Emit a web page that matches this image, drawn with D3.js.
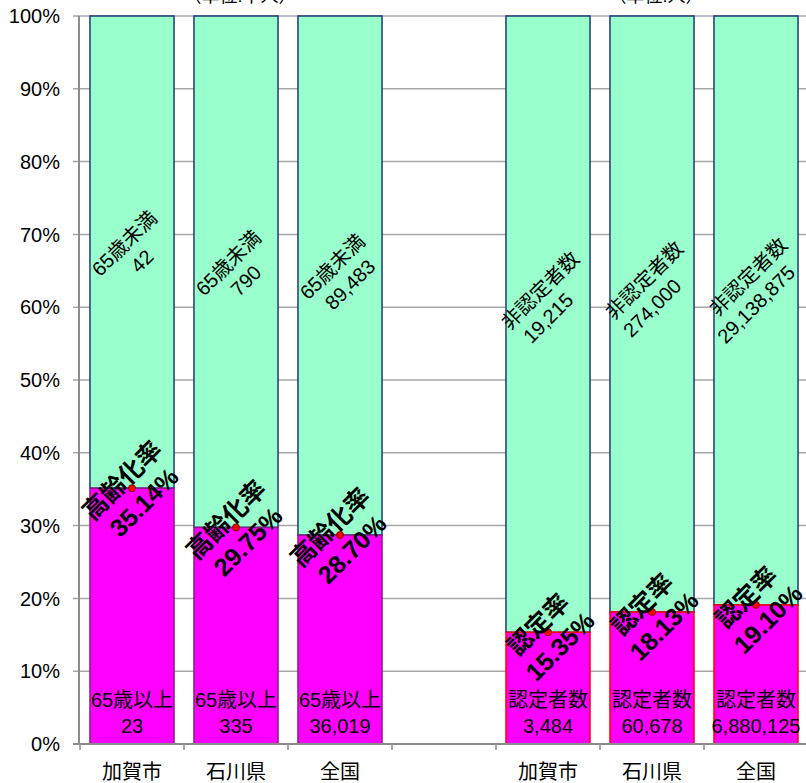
<!DOCTYPE html>
<html>
<head>
<meta charset="utf-8">
<script src="https://cdn.jsdelivr.net/npm/d3@7"></script>
<style>
  body { margin: 0; background: #fff; }
  text { font-family: "Liberation Sans", Arial, "Noto Sans CJK JP", sans-serif; }
</style>
</head>
<body>
<script>
// Data
const categories = ["加賀市", "石川県", "全国", "", "加賀市", "石川県", "全国"];
const lowerValues = [23, 335, 36019, null, 3484, 60678, 6880125];
const upperValues = [42, 790, 89483, null, 19215, 274000, 29138875];
const rates = [35.14, 29.75, 28.70, null, 15.35, 18.13, 19.10];
const lowerNames = ["65歳以上", "65歳以上", "65歳以上", "", "認定者数", "認定者数", "認定者数"];
const upperNames = ["65歳未満", "65歳未満", "65歳未満", "", "非認定者数", "非認定者数", "非認定者数"];
const rateNames = ["高齢化率", "高齢化率", "高齢化率", "", "認定率", "認定率", "認定率"];
const units = [{ at: 1, text: "（単位:千人）" }, { at: 5, text: "（単位:人）" }];
const yTicks = [0, 0.1, 0.2, 0.3, 0.4, 0.5, 0.6, 0.7, 0.8, 0.9, 1];

const width = 806;
const height = 783;
const marginTop = 16;
const marginBottom = 39;
const marginLeft = 80;

const idx = d3.range(categories.length);
const x = d3.scaleBand().domain(idx).range([marginLeft, 808]).paddingInner(0.192).paddingOuter(0.096);
const y = d3.scaleLinear([0, 1], [height - marginBottom, marginTop]);

const svg = d3.select("body").append("svg")
  .attr("width", width)
  .attr("height", height)
  .attr("viewBox", [0, 0, width, height]);

// grid lines + y tick labels
svg.append("g")
  .selectAll("line")
  .data(yTicks.slice(1))
  .join("line")
  .attr("x1", marginLeft - 7)
  .attr("x2", width)
  .attr("y1", (d) => y(d))
  .attr("y2", (d) => y(d))
  .attr("stroke", "#a6a6a6")
  .attr("stroke-width", 1.5);

svg.append("g")
  .selectAll("text")
  .data(yTicks)
  .join("text")
  .attr("x", 60)
  .attr("y", (d) => y(d))
  .attr("dy", "0.36em")
  .attr("text-anchor", "end")
  .attr("font-size", 20)
  .attr("fill", "#000")
  .text(d3.format(".0%"));

// units (cut at the top edge, as in the original)
svg.append("g")
  .selectAll("text")
  .data(units)
  .join("text")
  .attr("x", (d) => x(d.at) + x.bandwidth() / 2 + 4)
  .attr("y", 2)
  .attr("text-anchor", "middle")
  .attr("font-size", 18)
  .text((d) => d.text);

const rows = idx.filter((i) => rates[i] != null);

// upper bars
svg.append("g")
  .selectAll("rect")
  .data(rows)
  .join("rect")
  .attr("x", (i) => x(i))
  .attr("width", x.bandwidth())
  .attr("y", y(1))
  .attr("height", (i) => y(rates[i] / 100) - y(1))
  .attr("fill", "#99ffcc")
  .attr("stroke", "#1f3a78")
  .attr("stroke-width", 1.5);

// lower bars
svg.append("g")
  .selectAll("rect")
  .data(rows)
  .join("rect")
  .attr("x", (i) => x(i))
  .attr("width", x.bandwidth())
  .attr("y", (i) => y(rates[i] / 100))
  .attr("height", (i) => y(0) - y(rates[i] / 100))
  .attr("fill", "#ff00ff")
  .attr("stroke", (i) => (i < 3 ? "#8a1a8a" : "#ff0000"))
  .attr("stroke-width", 1.5);

// axes
svg.append("line")
  .attr("x1", marginLeft - 1).attr("x2", marginLeft - 1)
  .attr("y1", y(1)).attr("y2", y(0))
  .attr("stroke", "#8c8c8c").attr("stroke-width", 2);

svg.append("line")
  .attr("x1", marginLeft - 7).attr("x2", width)
  .attr("y1", y(0)).attr("y2", y(0))
  .attr("stroke", "#8c8c8c").attr("stroke-width", 2);

svg.append("g")
  .selectAll("line")
  .data(idx)
  .join("line")
  .attr("x1", (i) => x(i) - x.step() * 0.096)
  .attr("x2", (i) => x(i) - x.step() * 0.096)
  .attr("y1", y(0))
  .attr("y2", y(0) + 6)
  .attr("stroke", "#8c8c8c")
  .attr("stroke-width", 1.5);

svg.append("g")
  .selectAll("text")
  .data(idx)
  .join("text")
  .attr("x", (i) => x(i) + x.bandwidth() / 2)
  .attr("y", 772)
  .attr("dominant-baseline", "central")
  .attr("text-anchor", "middle")
  .attr("font-size", 20)
  .text((i) => categories[i]);

// red dots at top of lower bars
svg.append("g")
  .selectAll("circle")
  .data(rows)
  .join("circle")
  .attr("cx", (i) => x(i) + x.bandwidth() / 2)
  .attr("cy", (i) => y(rates[i] / 100))
  .attr("r", 3.5)
  .attr("fill", "#ff0000")
  .attr("stroke", "#800000")
  .attr("stroke-width", 1);

const fmtInt = d3.format(",");
const fmtRate = (v) => d3.format(".2f")(v) + "%";

// rotated two-line label; shift2 moves the second line along the text direction
function rotLabel(g, cx, cy, lines, size, gap, bold, shift2 = 0) {
  const t = g.append("g").attr("transform", `translate(${cx},${cy}) rotate(-45)`);
  lines.forEach((s, k) => {
    t.append("text")
      .attr("x", k === 1 ? shift2 : 0)
      .attr("y", (k - 0.5) * gap)
      .attr("dy", "0.36em")
      .attr("text-anchor", "middle")
      .attr("font-size", size)
      .attr("font-weight", bold ? "bold" : "normal")
      .text(s);
  });
}

const labels = svg.append("g");

// upper segment labels
rows.forEach((i) => {
  const mid = (rates[i] / 100 + 1) / 2;
  const right = i > 3;
  rotLabel(labels, x(i) + x.bandwidth() / 2 + 1, y(mid) + (right ? -25 : 0),
    [upperNames[i], fmtInt(upperValues[i])], 20, 25, false, right ? -14 : 0);
});

// lower segment labels (horizontal, near base)
rows.forEach((i) => {
  const cx = x(i) + x.bandwidth() / 2;
  labels.append("text")
    .attr("x", cx).attr("y", 700)
    .attr("dy", "0.36em")
    .attr("text-anchor", "middle")
    .attr("font-size", 20)
    .text(lowerNames[i]);
  labels.append("text")
    .attr("x", cx).attr("y", 726)
    .attr("dy", "0.36em")
    .attr("text-anchor", "middle")
    .attr("font-size", 20)
    .text(fmtInt(lowerValues[i]));
});

// rate labels
rows.forEach((i) => {
  rotLabel(labels, x(i) + x.bandwidth() / 2 + 1, y(rates[i] / 100) + 3,
    [rateNames[i], fmtRate(rates[i])], 25, 31, true);
});
</script>
</body>
</html>
